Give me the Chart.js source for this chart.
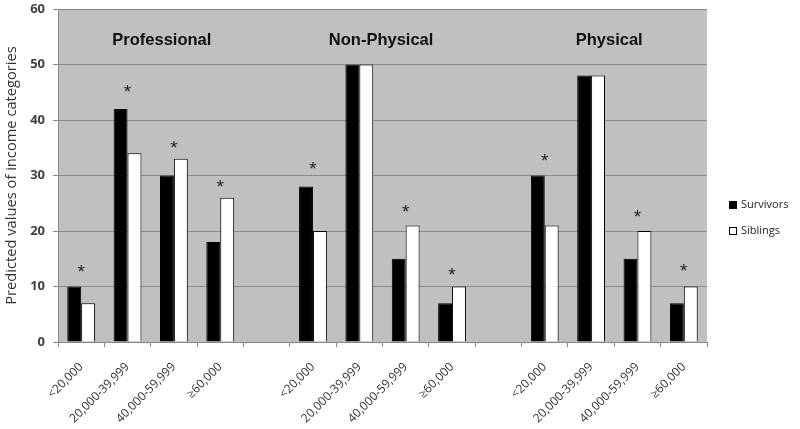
<!DOCTYPE html>
<html><head><meta charset="utf-8">
<script src="https://cdn.jsdelivr.net/npm/chart.js@4.4.1/dist/chart.umd.min.js"></script>
<style>html,body{margin:0;padding:0;background:#fff;}</style>
</head><body>
<canvas id="c" width="800" height="429" style="display:block;width:800px;height:429px"></canvas>
<script>
const categories = ['<20,000','20,000-39,999','40,000-59,999','\u226560,000','',
                    '<20,000','20,000-39,999','40,000-59,999','\u226560,000','',
                    '<20,000','20,000-39,999','40,000-59,999','\u226560,000'];
const survivors = [10, 42, 30, 18, null, 28, 50, 15, 7, null, 30, 48, 15, 7];
const siblings  = [7, 34, 33, 26, null, 20, 50, 21, 10, null, 21, 48, 20, 10];
const asteriskLevels = [13.2, 45.6, 35.5, 28.5, null, 31.8, null, 24, 12.7, null, 33.2, null, 23.1, 13.4];
const groupTitles = ['Professional', 'Non-Physical', 'Physical'];
const yTicks = [0, 10, 20, 30, 40, 50, 60];

const bgPlugin = {
  id: 'bg',
  beforeDraw(chart) {
    const {ctx, chartArea: a} = chart;
    ctx.save();
    ctx.fillStyle = '#ffffff';
    ctx.fillRect(0, 0, chart.width, chart.height);
    ctx.fillStyle = '#c0c0c0';
    ctx.fillRect(a.left, a.top, a.right - a.left, a.bottom - a.top);
    ctx.restore();
  }
};

const annotPlugin = {
  id: 'annot',
  afterDatasetsDraw(chart, args, opts) {
    const {ctx, scales: {x, y}} = chart;
    ctx.save();
    ctx.fillStyle = '#222';
    ctx.font = '19px "Liberation Sans"';
    ctx.textAlign = 'center';
    ctx.textBaseline = 'alphabetic';
    const m = ctx.measureText('*');
    asteriskLevels.forEach((lv, i) => {
      if (lv == null) return;
      const cx = x.getPixelForValue(i);
      const cy = y.getPixelForValue(lv);
      ctx.fillText('*', cx, cy - (m.actualBoundingBoxDescent - m.actualBoundingBoxAscent) / 2);
    });
    ctx.fillStyle = '#111';
    ctx.font = 'bold 16.5px "Liberation Sans"';
    ctx.textBaseline = 'middle';
    groupTitles.forEach((t, i) => {
      ctx.fillText(t, x.getPixelForValue(opts.titleAt[i]), y.getPixelForValue(opts.titleLevel));
    });
    ctx.restore();
  }
};

const legendPlugin = {
  id: 'customLegend',
  afterDraw(chart, args, opts) {
    const {ctx} = chart;
    ctx.save();
    ctx.font = '11px "Open Sans"';
    ctx.textAlign = 'left';
    ctx.textBaseline = 'middle';
    chart.data.datasets.forEach((ds, i) => {
      const cy = opts.y + i * opts.spacing;
      ctx.fillStyle = ds.backgroundColor;
      ctx.strokeStyle = '#000';
      ctx.lineWidth = 1;
      ctx.fillRect(opts.x + 0.5, cy - 3.5, 7, 7);
      ctx.strokeRect(opts.x + 0.5, cy - 3.5, 7, 7);
      ctx.fillStyle = '#222';
      ctx.fillText(ds.label, opts.x + 12, cy);
    });
    ctx.restore();
  }
};

new Chart(document.getElementById('c'), {
  type: 'bar',
  data: {
    labels: categories,
    datasets: [
      {label: 'Survivors', data: survivors, backgroundColor: '#000000', borderColor: '#000000', borderWidth: 1,
       categoryPercentage: 0.6, barPercentage: 1},
      {label: 'Siblings', data: siblings, backgroundColor: '#ffffff', borderColor: '#000000', borderWidth: 1,
       categoryPercentage: 0.6, barPercentage: 1}
    ]
  },
  options: {
    responsive: false,
    devicePixelRatio: 1,
    animation: false,
    layout: {padding: {top: 9, right: 93, left: 0, bottom: 0}},
    plugins: {
      legend: {display: false},
      tooltip: {enabled: false},
      annot: {titleAt: [1.74, 6.47, 11.39], titleLevel: 54.4},
      customLegend: {x: 729, y: 205, spacing: 26}
    },
    scales: {
      x: {
        grid: {display: true, drawOnChartArea: false, drawTicks: true, tickLength: 5, color: '#888', offset: true},
        border: {display: true, color: '#888'},
        ticks: {autoSkip: false, minRotation: 45, maxRotation: 45, color: '#333',
                font: {family: 'Open Sans', size: 12}, padding: 13},
        afterFit: s => { s.height = 87; }
      },
      y: {
        min: 0, max: 60,
        afterBuildTicks: s => { s.ticks = yTicks.map(v => ({value: v})); },
        grid: {color: '#8a8a8a', tickLength: 5, drawTicks: true},
        border: {display: true, color: '#888'},
        ticks: {color: '#404040', font: {family: 'Open Sans', size: 13, weight: 'bold'}, padding: 8},
        title: {display: true, text: 'Predicted values of income categories', color: '#333',
                font: {family: 'Open Sans', size: 14.7}, padding: {top: 3, bottom: 0}},
        afterFit: s => { s.width = 58; s.paddingTop = 0; s.paddingBottom = 0; }
      }
    }
  },
  plugins: [bgPlugin, annotPlugin, legendPlugin]
});
</script>
</body></html>
